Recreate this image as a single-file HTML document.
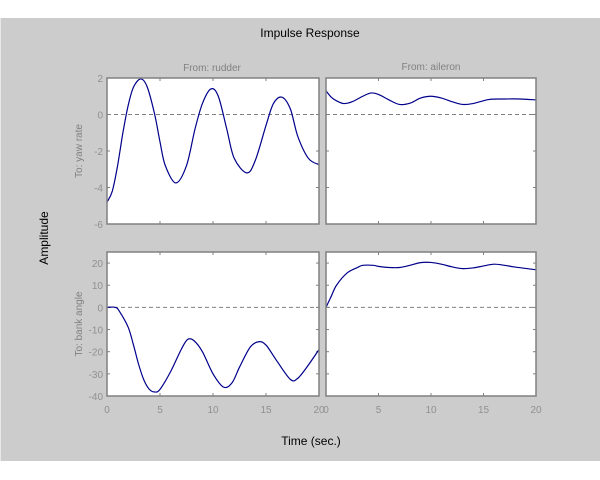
<!DOCTYPE html>
<html><head><meta charset="utf-8"><style>
body{margin:0;background:#fff;width:600px;height:480px;overflow:hidden}
svg{display:block;font-family:"Liberation Sans",sans-serif}
</style></head><body>
<svg width="600" height="480">
<rect x="0" y="18" width="600" height="443" fill="#cccccc"/>
<line x1="0.5" y1="18" x2="0.5" y2="461" stroke="#e8e8e8"/>
<text x="310" y="37" font-size="12" text-anchor="middle" fill="#000">Impulse Response</text>
<text x="311" y="445" font-size="12" text-anchor="middle" fill="#000">Time (sec.)</text>
<text transform="translate(48,238) rotate(-90)" font-size="12" text-anchor="middle" fill="#000">Amplitude</text>
<text x="212" y="71" font-size="10" text-anchor="middle" fill="#808080">From: rudder</text>
<text x="431" y="70" font-size="10" text-anchor="middle" fill="#808080">From: aileron</text>
<text transform="translate(82,151) rotate(-90)" font-size="10" text-anchor="middle" fill="#808080">To: yaw rate</text>
<text transform="translate(82,324) rotate(-90)" font-size="10" text-anchor="middle" fill="#808080">To: bank angle</text>
<g id="plots"></g>
</svg>
<script>
const xTicks=[0,5,10,15,20];
const yTicksTop=[2,0,-2,-4,-6];
const yTicksBot=[20,10,0,-10,-20,-30,-40];
const tYawRud=[0,0.5,1,1.5,2,2.5,3.2,3.8,4.5,5,5.5,6.5,7.5,8.3,9,9.8,10.5,11.3,12,13.2,14,15,15.7,16.5,17.3,18,19,20];
const yYawRud=[-4.8,-4.2,-2.8,-1.0,0.5,1.5,1.95,1.5,0.0,-1.5,-2.8,-3.75,-2.8,-0.8,0.6,1.4,1.0,-0.8,-2.4,-3.2,-2.5,-0.6,0.6,0.95,0.3,-1.2,-2.4,-2.75];
const tYawAil=[0,0.5,1,1.7,2.5,3.5,4.3,5,6,7,8,9,10,11,12,13,14,15.5,17,18.5,20];
const yYawAil=[1.3,0.95,0.75,0.6,0.7,1.0,1.18,1.1,0.8,0.55,0.62,0.9,1.0,0.9,0.7,0.55,0.6,0.82,0.85,0.85,0.8];
const tBankRud=[0,0.8,1.2,2,2.5,3,3.5,4,4.5,5,6,7,7.6,8.2,9,10,11,11.8,12.5,13.5,14.3,15,16,17.3,18,19,20];
const yBankRud=[0,0,-2,-9,-17,-26,-33,-37,-38.2,-37,-29,-19,-14.5,-15,-20,-30,-36,-34,-27,-18,-15.5,-17,-24,-32.5,-32,-26,-19];
const tBankAil=[0,0.5,1,2,3,3.5,4.5,5,6,7,8,9,10,11,12,13,14,15,16,17,18,20];
const yBankAil=[0,5,10,15.5,18,19,19,18.5,18,18,19,20.2,20.3,19.5,18.3,17.5,17.8,18.7,19.5,19,18.2,17];

const NS="http://www.w3.org/2000/svg";
const root=document.getElementById('plots');
function mk(tag,attrs,parent){const e=document.createElementNS(NS,tag);for(const k in attrs)e.setAttribute(k,attrs[k]);(parent||root).appendChild(e);return e;}
const panels=[
 {name:'yaw-rudder',x0:107,x1:319,y0:78,y1:224,ymin:-6,ymax:2,yt:yTicksTop,ylab:true,xlab:false,t:tYawRud,v:yYawRud},
 {name:'yaw-aileron',x0:326,x1:536,y0:78,y1:224,ymin:-6,ymax:2,yt:yTicksTop,ylab:false,xlab:false,t:tYawAil,v:yYawAil},
 {name:'bank-rudder',x0:107,x1:319,y0:252,y1:396,ymin:-40,ymax:25,yt:yTicksBot,ylab:true,xlab:true,t:tBankRud,v:yBankRud},
 {name:'bank-aileron',x0:326,x1:536,y0:252,y1:396,ymin:-40,ymax:25,yt:yTicksBot,ylab:false,xlab:true,t:tBankAil,v:yBankAil}];
panels.forEach(p=>{
 const sx=t=>p.x0+(t-0)/20*(p.x1-p.x0);
 const sy=v=>p.y1-(v-p.ymin)/(p.ymax-p.ymin)*(p.y1-p.y0);
 const g=mk('g',{});
 
 
 const bg=mk('rect',{x:p.x0,y:p.y0,width:p.x1-p.x0,height:p.y1-p.y0,fill:'#fff'},g);
 
 
 const z=mk('line',{x1:p.x0,x2:p.x1,y1:sy(0),y2:sy(0),stroke:'#808080','stroke-dasharray':'4,3'},g);
 
 
 xTicks.forEach(t=>{
  const x=sx(t);
  mk('line',{x1:x,x2:x,y1:p.y1,y2:p.y1-3,stroke:'#808080'},g);
  mk('line',{x1:x,x2:x,y1:p.y0,y2:p.y0+3,stroke:'#808080'},g);
  if(p.xlab){const tx=mk('text',{x:x,y:p.y1+17,'font-size':10,fill:'#909090','text-anchor':'middle'},g);tx.textContent=t;
   
   }
 });
 p.yt.forEach(v=>{
  const y=sy(v);
  mk('line',{x1:p.x0,x2:p.x0+3,y1:y,y2:y,stroke:'#808080'},g);
  mk('line',{x1:p.x1,x2:p.x1-3,y1:y,y2:y,stroke:'#808080'},g);
  if(p.ylab){const tx=mk('text',{x:p.x0-4,y:y+4,'font-size':10,fill:'#909090','text-anchor':'end'},g);tx.textContent=v;
   
   }
 });
 // smooth curve (Catmull-Rom)
 const pts=p.t.map((t,i)=>[sx(t),sy(p.v[i])]);
 let d='M'+pts[0][0]+','+pts[0][1];
 for(let i=0;i<pts.length-1;i++){
  const p0=pts[Math.max(0,i-1)],p1=pts[i],p2=pts[i+1],p3=pts[Math.min(pts.length-1,i+2)];
  const c1=[p1[0]+(p2[0]-p0[0])/6,p1[1]+(p2[1]-p0[1])/6];
  const c2=[p2[0]-(p3[0]-p1[0])/6,p2[1]-(p3[1]-p1[1])/6];
  d+=' C'+c1+' '+c2+' '+p2;
 }
 const ln=mk('path',{d:d,fill:'none',stroke:'#00008b','stroke-width':1.2},g);
 
 
 const fr=mk('rect',{x:p.x0,y:p.y0,width:p.x1-p.x0,height:p.y1-p.y0,fill:'none',stroke:'#808080','stroke-width':1.5},g);
 
 
});
</script>
</body></html>
